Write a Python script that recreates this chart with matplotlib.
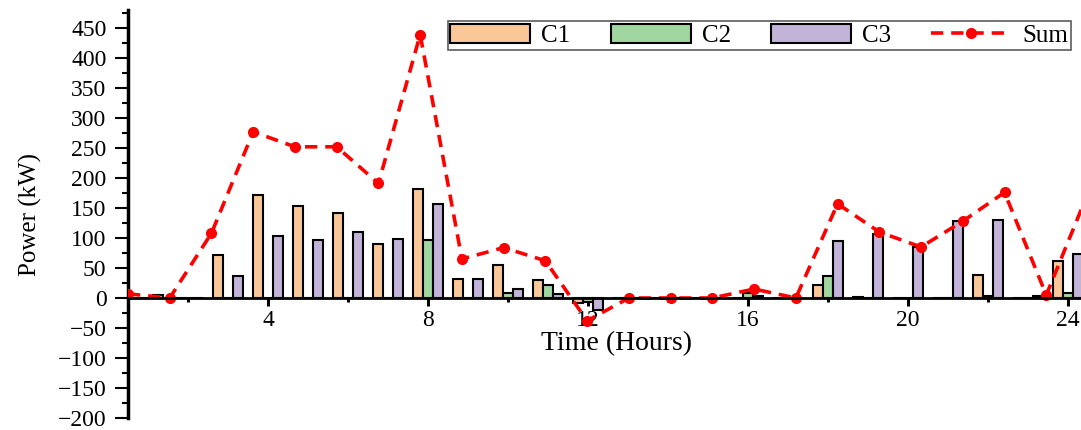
import numpy as np
import matplotlib
matplotlib.use("Agg")
import matplotlib.pyplot as plt
from matplotlib.ticker import MultipleLocator

plt.rcParams['font.family'] = ['Liberation Serif', 'DejaVu Serif']

hours = np.arange(1, 25)
C1 = [0, 0, 71, 171, 153, 141, 90, 182, 32, 55, 30, -8, 0, 0, 0, 0, 0, 22, 2, 0, 0, 38, 0, 62]
C2 = [0, 0, 0, 0, 0, 0, 0, 97, 0, 9, 22, -7, 0, 0, 0, 8, 0, 37, 0, 0, 0, 4, 0, 8]
C3 = [5, 0, 36, 104, 97, 110, 98, 157, 31, 15, 6, -20, 0, 0, 0, 4, 0, 95, 106, 85, 128, 130, 4, 73]
Sum = [7, 0, 108, 277, 252, 252, 191, 439, 65, 84, 62, -38, 0, 0, 0, 15, 0, 157, 110, 85, 128, 176, 5, 175]
xticks = [4, 8, 12, 16, 20, 24]
yticks = list(range(-200, 451, 50))

fig = plt.figure(figsize=(10.81, 4.30), dpi=100)
ax = fig.add_axes([128/1081, 12/430, 977/1081, 408/430])

w = 0.25
b1 = ax.bar(hours - w, C1, width=w, color='#FAC898', edgecolor='black', linewidth=1.5, label='C1', zorder=2)
b2 = ax.bar(hours, C2, width=w, color='#A0D6A0', edgecolor='black', linewidth=1.5, label='C2', zorder=2)
b3 = ax.bar(hours + w, C3, width=w, color='#C2B3D8', edgecolor='black', linewidth=1.5, label='C3', zorder=2)

sum_x = np.linspace(0.5, 24.5, len(Sum))
ln, = ax.plot(sum_x, Sum, color='#FF0000', linestyle=(0, (3.4, 2.2)), linewidth=2.6,
              marker='o', markersize=7, label='Sum', zorder=3)

ax.set_xlim(0.5, 24.925)
ax.set_ylim(-200, 480)
ax.set_xticks(xticks)
ax.xaxis.set_minor_locator(MultipleLocator(2))
ax.set_yticks(yticks)
ax.yaxis.set_minor_locator(MultipleLocator(25))

ax.spines['top'].set_visible(False)
ax.spines['right'].set_visible(False)
ax.spines['bottom'].set_position(('data', 0))
ax.spines['bottom'].set_linewidth(2)
ax.spines['left'].set_linewidth(2.5)
ax.spines['bottom'].set_zorder(4)

ax.tick_params(axis='y', which='major', length=9.5, width=1.5, direction='out', labelsize=17, pad=6)
ax.tick_params(axis='y', which='minor', length=4.5, width=1.5, direction='out')
ax.tick_params(axis='x', which='major', length=6, width=2.2, direction='out', labelsize=17, pad=3)
ax.tick_params(axis='x', which='minor', length=3, width=2.2, direction='out')

ax.set_xlabel('Time (Hours)', fontsize=20, labelpad=0)
ax.set_ylabel('Power (kW)', fontsize=18)
ax.yaxis.set_label_coords(-86/977, 0.5)

leg = fig.legend(handles=[b1, b2, b3, ln], labels=['C1', 'C2', 'C3', 'Sum'],
                 loc='upper right', bbox_to_anchor=(1071/1081, 1 - 21/430), ncol=4,
                 fontsize=18, frameon=True, fancybox=False, edgecolor='#333333',
                 handlelength=3.2, handleheight=0.85, handletextpad=0.45,
                 columnspacing=1.6, borderpad=0.1, borderaxespad=0)
leg.get_frame().set_linewidth(1.2)

fig.savefig('out.png', dpi=100)
